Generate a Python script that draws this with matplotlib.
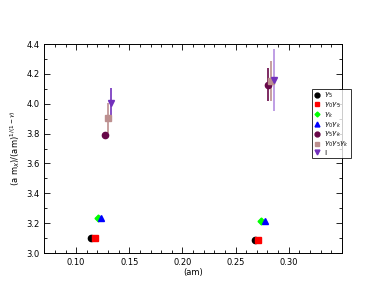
import matplotlib
matplotlib.use("Agg")
import matplotlib.pyplot as plt
from matplotlib.ticker import MultipleLocator
from matplotlib.lines import Line2D

labels = [r"$\gamma_5$", r"$\gamma_0\gamma_5$", r"$\gamma_k$", r"$\gamma_0\gamma_k$",
          r"$\gamma_5\gamma_k$", r"$\gamma_0\gamma_5\gamma_k$", r"I"]
x_vals = [[0.1141, 0.2680], [0.1176, 0.2712], [0.1204, 0.2743], [0.1235, 0.2774],
          [0.1270, 0.2802], [0.1298, 0.2834], [0.1329, 0.2865]]
y_vals = [[3.100, 3.085], [3.100, 3.085], [3.234, 3.212], [3.237, 3.212],
          [3.790, 4.127], [3.906, 4.153], [4.003, 4.160]]
y_errs = [[0.0, 0.0], [0.0, 0.0], [0.0, 0.0], [0.0, 0.0],
          [0.0, 0.11], [0.10, 0.135], [0.105, 0.21]]
colors = ["#000000", "#ff0000", "#00ff00", "#0000ff", "#670748", "#bc8f8f", "#7230bc"]
markers = ["o", "s", "D", "^", "o", "s", "v"]
ecolors2 = [None, None, None, None, None, None, "#b48ee0"]

fig = plt.figure(figsize=(3.85, 2.98), dpi=100)
ax = fig.add_axes([0.115, 0.151, 0.773, 0.701])

handles = []
for i in range(len(labels)):
    ms = 3.5 if markers[i] == "D" else 4.5
    for j in range(2):
        ec = colors[i] if (j == 0 or ecolors2[i] is None) else ecolors2[i]
        ax.errorbar(x_vals[i][j], y_vals[i][j], yerr=y_errs[i][j] if y_errs[i][j] > 0 else None,
                    fmt=markers[i], color=colors[i], ecolor=ec, ms=ms, elinewidth=1.2,
                    capsize=0, zorder=3)
    handles.append(Line2D([], [], linestyle="none", marker=markers[i], color=colors[i],
                          ms=ms - 1.0, label=labels[i]))

ax.set_xlim(0.07, 0.35)
ax.set_ylim(3.0, 4.4)
ax.xaxis.set_minor_locator(MultipleLocator(0.01))
ax.yaxis.set_major_locator(MultipleLocator(0.2))
ax.yaxis.set_minor_locator(MultipleLocator(0.1))
ax.set_xticks([0.10, 0.15, 0.20, 0.25, 0.30])
ax.set_xticklabels(["0.10", "0.15", "0.20", "0.25", "0.30"])
ax.tick_params(which="both", direction="in", top=True, right=True, labelsize=6, width=0.6)
ax.tick_params(which="major", length=4)
ax.tick_params(which="minor", length=2)
for s in ax.spines.values():
    s.set_linewidth(0.7)

ax.set_xlabel("(am)", fontsize=6, labelpad=1)
ax.set_ylabel(r"(a m$_X$)/(am)$^{1/(1-\gamma)}$", fontsize=6, labelpad=3)

leg = ax.legend(handles=handles, loc="upper left", bbox_to_anchor=(0.899, 0.785), fontsize=5.2,
                frameon=True, fancybox=False, edgecolor="black", handlelength=0.8,
                handletextpad=0.6, borderpad=0.3, labelspacing=0.08, borderaxespad=0)
leg.get_frame().set_linewidth(0.7)

fig.savefig("out.png", dpi=100)
